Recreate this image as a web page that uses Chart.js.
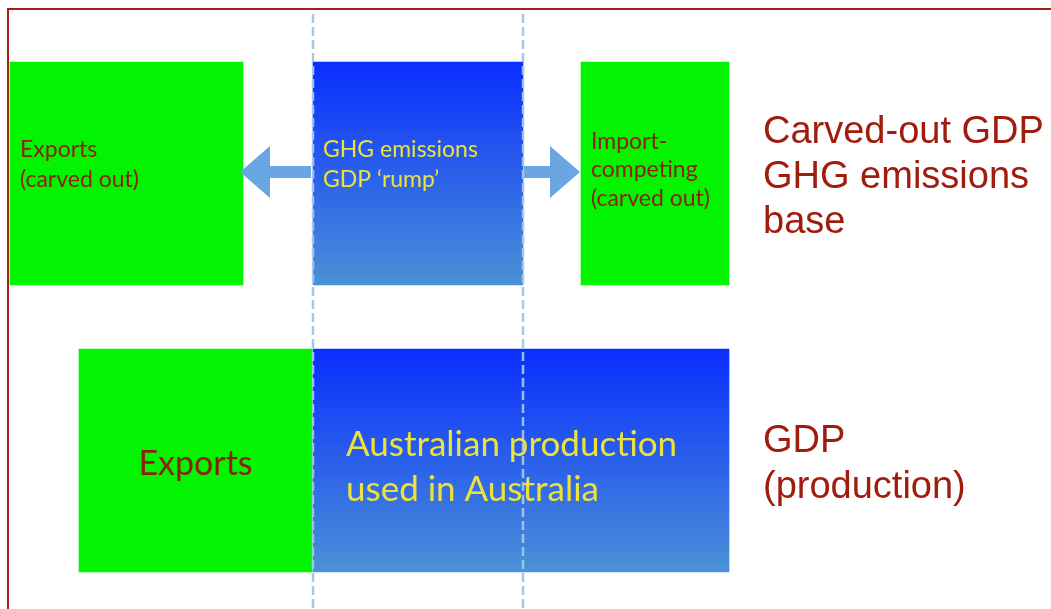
<!DOCTYPE html>
<html>
<head>
<meta charset="utf-8">
<title>GDP and the carved-out emissions base</title>
<script src="https://cdn.jsdelivr.net/npm/chart.js@4/dist/chart.umd.min.js"></script>
<style>
  html, body { margin: 0; padding: 0; background: #fff; }
  #wrap { width: 1051px; height: 609px; }
</style>
</head>
<body>
<div id="wrap"><canvas id="gdpChart" width="1051" height="609"></canvas></div>
<script>
// rows: carved-out base (top) and total GDP by production (bottom)
const rowLabels = [
    ["Carved-out GDP", "GHG emissions", "base"],
    ["GDP", "(production)"]
];

// floating bar extents [start, end] per row
const exportsSpan = [[10, 243], [79, 312]];
const domesticSpan = [[313, 523], [313, 729]];
const importSpan = [[581, 729], null];

// text written inside each box
const exportsText = [["Exports", "(carved out)"], ["Exports"]];
const domesticText = [["GHG emissions", "GDP \u2018rump\u2019"], ["Australian production", "used in Australia"]];
const importText = [["Import-", "competing", "(carved out)"], null];

const GREEN = "#02f402";
const BLUE_TOP = "#0a2eff";
const BLUE_BOTTOM = "#4b91d6";
const BROWN = "#8e1f0c";
const YELLOW = "#ece33a";
const BAR_H = 223;

function blueFill(context) {
    const chart = context.chart;
    const yScale = chart.scales.y;
    if (!yScale || context.dataIndex === undefined) return BLUE_TOP;
    const c = yScale.getPixelForValue(context.dataIndex);
    if (!Number.isFinite(c)) return BLUE_TOP;
    const g = chart.ctx.createLinearGradient(0, c - BAR_H / 2, 0, c + BAR_H / 2);
    g.addColorStop(0, BLUE_TOP);
    g.addColorStop(1, BLUE_BOTTOM);
    return g;
}

function barBox(bar) {
    const p = bar.getProps(["x", "y", "base", "height"], true);
    return { left: Math.min(p.x, p.base), right: Math.max(p.x, p.base), y: p.y };
}

// arrows pushing the carved-out parts away from the rump
const arrows = {
    id: "arrows",
    afterDatasetsDraw(chart) {
        const ctx = chart.ctx;
        const ex = barBox(chart.getDatasetMeta(0).data[0]);
        const dm = barBox(chart.getDatasetMeta(1).data[0]);
        const im = barBox(chart.getDatasetMeta(2).data[0]);
        const y = dm.y - 1.5;
        ctx.save();
        ctx.fillStyle = "#6aa6e2";
        drawArrow(ctx, dm.left - 2, ex.right - 3, y);
        drawArrow(ctx, dm.right + 1, im.left - 1, y);
        ctx.restore();
    }
};

function drawArrow(ctx, fromX, toX, y) {
    const dir = toX > fromX ? 1 : -1;
    const headLen = 30, headHalf = 26, shaftHalf = 6;
    const baseX = toX - dir * headLen;
    ctx.beginPath();
    ctx.moveTo(fromX, y - shaftHalf);
    ctx.lineTo(baseX, y - shaftHalf);
    ctx.lineTo(baseX, y - headHalf);
    ctx.lineTo(toX, y);
    ctx.lineTo(baseX, y + headHalf);
    ctx.lineTo(baseX, y + shaftHalf);
    ctx.lineTo(fromX, y + shaftHalf);
    ctx.closePath();
    ctx.fill();
}

// labels inside the boxes
const boxText = {
    id: "boxText",
    afterDatasetsDraw(chart) {
        const ctx = chart.ctx;
        ctx.save();
        ctx.textBaseline = "middle";
        chart.data.datasets.forEach((ds, di) => {
            chart.getDatasetMeta(di).data.forEach((bar, i) => {
                const lines = ds.notes[i];
                if (!lines || !ds.data[i]) return;
                const b = barBox(bar);
                let x, cy, step, font, align;
                if (i === 0) {
                    font = "23px Lato";
                    step = lines.length > 2 ? 28.5 : 30;
                    cy = lines.length > 2 ? b.y - 3.5 : b.y - 9;
                    x = b.left + 10;
                    align = "left";
                } else if (di === 0) {
                    font = "34px Lato";
                    step = 45;
                    cy = b.y + 4;
                    x = (b.left + b.right) / 2;
                    align = "center";
                } else {
                    font = "35px Lato";
                    step = 45;
                    cy = b.y + 7;
                    x = b.left + 33;
                    align = "left";
                }
                ctx.font = font;
                ctx.textAlign = align;
                ctx.fillStyle = di === 1 ? YELLOW : BROWN;
                const top = cy - (lines.length - 1) * step / 2;
                lines.forEach((t, k) => ctx.fillText(t, x, top + k * step));
            });
        });
        ctx.restore();
    }
};

// dashed guides at the edges of the rump, plus the outer frame
const guides = {
    id: "guides",
    afterDraw(chart) {
        const ctx = chart.ctx;
        const dmTop = barBox(chart.getDatasetMeta(1).data[0]);
        ctx.save();
        ctx.strokeStyle = "rgba(160,198,236,0.95)";
        ctx.lineWidth = 2.5;
        ctx.setLineDash([9, 4]);
        [dmTop.left, dmTop.right].forEach(x => {
            ctx.beginPath();
            ctx.moveTo(x, 14);
            ctx.lineTo(x, chart.height);
            ctx.stroke();
        });
        ctx.setLineDash([]);
        ctx.strokeStyle = "#a02212";
        ctx.lineWidth = 2;
        ctx.beginPath();
        ctx.moveTo(chart.width, 9);
        ctx.lineTo(8, 9);
        ctx.lineTo(8, chart.height);
        ctx.stroke();
        ctx.restore();
    }
};

const chart = new Chart(document.getElementById("gdpChart"), {
    type: "bar",
    data: {
        labels: rowLabels,
        datasets: [
            { label: "Exports", data: exportsSpan, notes: exportsText, backgroundColor: GREEN },
            { label: "Domestic use", data: domesticSpan, notes: domesticText, backgroundColor: blueFill },
            { label: "Import-competing", data: importSpan, notes: importText, backgroundColor: GREEN }
        ]
    },
    options: {
        indexAxis: "y",
        responsive: false,
        animation: false,
        devicePixelRatio: 1,
        grouped: false,
        barThickness: BAR_H,
        borderWidth: 0,
        layout: { padding: { top: 30, bottom: 5, left: 0, right: 0 } },
        scales: {
            x: { type: "linear", min: 0, max: 750, display: false },
            y: {
                position: "right",
                grid: { display: false, drawTicks: false },
                border: { display: false },
                ticks: {
                    color: "#a01c0c",
                    font: { family: "'Liberation Sans', Arial", size: 38, lineHeight: 1.19 },
                    padding: 13,
                    labelOffset: 4
                },
                afterFit(scale) {
                    // keep the multi-line labels from squeezing the rows
                    scale.width = 1051 - 750;
                    scale.paddingTop = 0;
                    scale.paddingBottom = 0;
                }
            }
        },
        plugins: {
            legend: { display: false },
            tooltip: { enabled: false }
        }
    },
    plugins: [arrows, boxText, guides]
});
</script>
</body>
</html>
